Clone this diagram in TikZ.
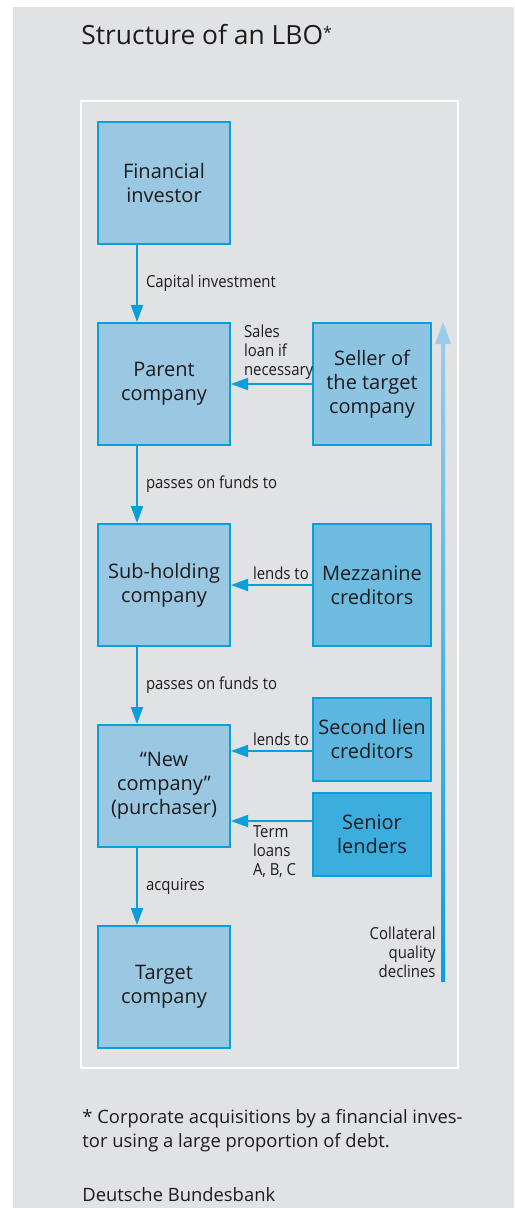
\documentclass[tikz,border=0pt]{standalone}
\usepackage{fontspec}
\setmainfont{Open Sans}
\newfontfamily\condensed[FakeStretch=0.9]{Open Sans}
\usetikzlibrary{arrows.meta, positioning}
\definecolor{bbgrey}{HTML}{E1E2E4}
\definecolor{bbblue}{HTML}{0A9FDB}
\definecolor{bbpale}{HTML}{9AC8E2}
\definecolor{bbseller}{HTML}{8DC4E2}
\definecolor{bbmezz}{HTML}{6DBCE0}
\definecolor{bblien}{HTML}{5CB6DF}
\definecolor{bbsenior}{HTML}{3BAEDD}
\definecolor{bbtext}{HTML}{1E1B1C}
\definecolor{bbarrowtop}{HTML}{9DCDEA}

\begin{document}
\begin{tikzpicture}[
  node distance=38.5pt and 40.5pt,
  entity/.style={rectangle, draw=bbblue, line width=1pt, fill=#1, text=bbtext, align=center, font=\fontsize{10}{12}\selectfont, inner sep=1pt},
  firm/.style={entity=bbpale, minimum width=66pt, minimum height=61pt},
  lender/.style={entity=#1, minimum width=59pt, minimum height=61pt},
  flow/.style={-{Triangle[length=8.5pt, width=6pt]}, line width=1pt, draw=bbblue},
  lbl/.style={font=\condensed\fontsize{8.3}{9.5}\selectfont, text=bbtext, align=left, inner sep=2pt},
  plain/.style={anchor=base west, inner sep=0pt, text=bbtext}
]
  % Page and panel
  \useasboundingbox (0,0) rectangle (257pt,-604pt);
  \fill[bbgrey] (6.5pt,-3.5pt) rectangle (257pt,-604pt);
  \draw[white, line width=1pt] (40.5pt,-50.5pt) rectangle (229pt,-534pt);

  % Heading
  \node[plain, font=\fontsize{13.2}{16}\selectfont] (title) at (40.5pt,-22.5pt) {Structure of an LBO\raisebox{3pt}{\fontsize{8}{8}\selectfont *}};

  % Chain of companies
  \node[firm] (investor) at (82pt,-91.5pt) {Financial\\investor};
  \node[firm, below=of investor] (parent) {Parent\\company};
  \node[firm, below=of parent] (subhold) {Sub-holding\\company};
  \node[firm, below=of subhold] (newco) {“New\\company”\\(purchaser)};
  \node[firm, below=of newco] (target) {Target\\company};

  % Lenders
  \node[lender=bbseller, right=of parent] (seller) {Seller of\\the target\\company};
  \node[lender=bbmezz, right=of subhold] (mezz) {Mezzanine\\creditors};
  \node[lender=bblien, minimum height=41.5pt, right=of newco, yshift=23.5pt] (lien) {Second lien\\creditors};
  \node[lender=bbsenior, minimum height=41.5pt, below=5pt of lien] (senior) {Senior\\lenders};

  % Downward flows
  \draw[flow] ([xshift=20pt]investor.south west) -- ([xshift=20pt]parent.north west)
    node[lbl, midway, anchor=west, xshift=2pt] {Capital investment};
  \draw[flow] ([xshift=20pt]parent.south west) -- ([xshift=20pt]subhold.north west)
    node[lbl, midway, anchor=west, xshift=2pt] {passes on funds to};
  \draw[flow] ([xshift=20pt]subhold.south west) -- ([xshift=20pt]newco.north west)
    node[lbl, midway, anchor=west, xshift=2pt] {passes on funds to};
  \draw[flow] ([xshift=20pt]newco.south west) -- ([xshift=20pt]target.north west)
    node[lbl, midway, anchor=west, xshift=2pt] {acquires};

  % Loans from the right
  \draw[flow] (seller) -- (parent)
    node[lbl, pos=1, anchor=south west, xshift=4pt] {Sales\\loan if\\necessary};
  \draw[flow] (mezz) -- (subhold)
    node[lbl, pos=1, anchor=south west, xshift=8.5pt] {lends to};
  \coordinate (lienin) at ([yshift=-13.5pt]newco.north east);
  \coordinate (seniorin) at ([yshift=13.5pt]newco.south east);
  \draw[flow] (lien.west |- lienin) -- (lienin)
    node[lbl, pos=1, anchor=south west, xshift=8.5pt] {lends to};
  \draw[flow] (senior.west |- seniorin) -- (seniorin)
    node[lbl, pos=1, anchor=north west, xshift=8.5pt] {Term\\loans\\A, B, C};

  % Collateral arrow
  \coordinate (ctop) at ([xshift=5.5pt]seller.north east);
  \coordinate[yshift=2.5pt] (cbot) at (ctop |- target.center);
  \shade[bottom color=bbblue, top color=bbarrowtop]
    ([xshift=-1pt]cbot) -- ([xshift=-1pt, yshift=-11pt]ctop) -- ([xshift=-4pt, yshift=-11pt]ctop)
    -- (ctop) -- ([xshift=4pt, yshift=-11pt]ctop) -- ([xshift=1pt, yshift=-11pt]ctop)
    -- ([xshift=1pt]cbot) -- cycle;
  \node[lbl, anchor=south east, align=right, xshift=-1.5pt] (collateral) at (cbot) {Collateral\\quality\\declines};

  % Footnote and source
  \node[plain, font=\fontsize{9.2}{12}\selectfont] (note) at (41pt,-561.5pt) {* Corporate acquisitions by a financial inves-};
  \node[plain, font=\fontsize{9.2}{12}\selectfont] (notecont) at (41pt,-573.5pt) {tor using a large proportion of debt.};
  \node[plain, font=\fontsize{9.2}{12}\selectfont] (source) at (41pt,-600.5pt) {Deutsche Bundesbank};
\end{tikzpicture}
\end{document}
